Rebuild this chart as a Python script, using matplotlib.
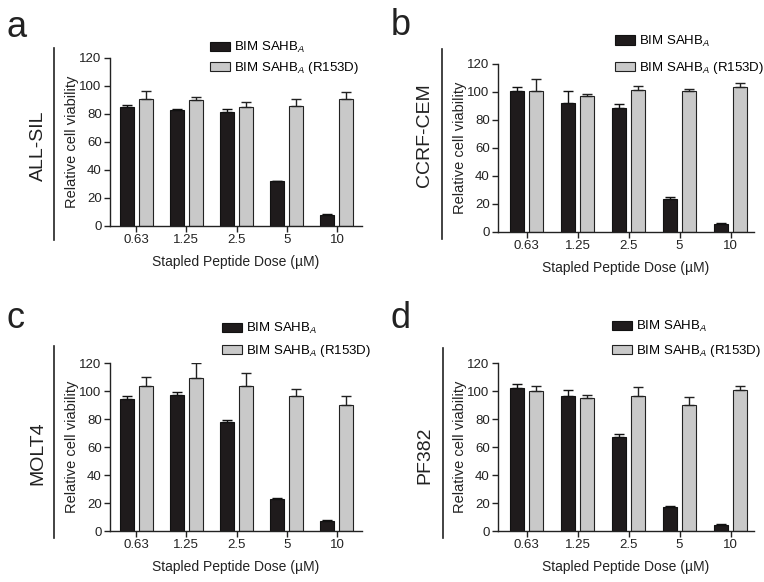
import matplotlib
matplotlib.use('Agg')
import matplotlib.pyplot as plt
from matplotlib.lines import Line2D
import numpy as np

plt.rcParams['font.family'] = ['Liberation Sans', 'DejaVu Sans']
plt.rcParams['mathtext.fontset'] = 'custom'
plt.rcParams['mathtext.rm'] = 'Liberation Sans'
plt.rcParams['mathtext.it'] = 'Liberation Sans:italic'

# dati
doses = ['0.63', '1.25', '2.5', '5', '10']
panel_letters = ['a', 'b', 'c', 'd']
cell_lines = ['ALL-SIL', 'CCRF-CEM', 'MOLT4', 'PF382']

allsil_wt = [85, 82.7, 81.5, 31.8, 7.6]
allsil_wt_err = [1.2, 0.9, 2.4, 0.7, 0.7]
allsil_mut = [90.7, 89.8, 85, 85.5, 91]
allsil_mut_err = [5.5, 2.2, 3.6, 5.5, 5]

ccrf_wt = [100.5, 91.9, 88.5, 23.9, 5.7]
ccrf_wt_err = [2.8, 9.1, 3.1, 1.4, 0.7]
ccrf_mut = [100.5, 96.9, 101.4, 100.7, 103.8]
ccrf_mut_err = [8.8, 1.7, 3.1, 1.7, 2.4]

molt4_wt = [94.5, 97.1, 78.2, 22.7, 7.4]
molt4_wt_err = [2.1, 2.2, 1.0, 1.0, 0.7]
molt4_mut = [103.8, 109.3, 103.6, 96.6, 90]
molt4_mut_err = [6.0, 10.5, 9.3, 4.6, 6.6]

pf382_wt = [102.2, 96.2, 67, 17.2, 4.3]
pf382_wt_err = [2.8, 4.3, 2.1, 0.5, 0.7]
pf382_mut = [100.2, 95, 96.6, 89.7, 100.7]
pf382_mut_err = [3.1, 1.9, 6.0, 5.8, 2.6]

wt_all = [allsil_wt, ccrf_wt, molt4_wt, pf382_wt]
wt_err_all = [allsil_wt_err, ccrf_wt_err, molt4_wt_err, pf382_wt_err]
mut_all = [allsil_mut, ccrf_mut, molt4_mut, pf382_mut]
mut_err_all = [allsil_mut_err, ccrf_mut_err, molt4_mut_err, pf382_mut_err]

W, H = 764, 582
fig = plt.figure(figsize=(W / 100, H / 100), dpi=100)

# posizioni in pixel: left, right, top, bottom, xlim
boxes = [
    (110, 362, 58, 226, (-0.52, 4.5)),
    (498, 754, 64, 232, (-0.56, 4.46)),
    (110, 362, 363, 531, (-0.52, 4.5)),
    (498, 754, 363, 531, (-0.56, 4.46)),
]
# legenda: x, y centro, spaziatura righe
legends = [(210, 58, 0.38), (615, 55, 0.9), (222, 340, 0.5), (612, 339, 0.65)]
# lettera (x, baseline), etichetta (x, y), linea (x, y0, y1)
letters = [(7, 37), (391, 35), (7, 328), (390, 328)]
labels_pos = [(38, 146), (425, 135), (38, 453), (425, 455)]
lines = [(54, 48, 240), (442, 49, 239), (54, 346, 538), (443, 348, 538)]

black = '#1f1b1c'
grey = '#c9c9c9'
x = np.arange(len(doses))
bw = 0.28

for i in range(4):
    l, r, t, b, xl = boxes[i]
    ax = fig.add_axes([l / W, 1 - b / H, (r - l) / W, (b - t) / H])
    ax.bar(x - 0.19, wt_all[i], bw, color=black, edgecolor='#111111', linewidth=0.8,
           yerr=[np.zeros(5), wt_err_all[i]], capsize=3.5,
           error_kw=dict(elinewidth=1, capthick=1, ecolor='#111111'),
           label=r'BIM SAHB$_{\mathit{A}}$')
    ax.bar(x + 0.19, mut_all[i], bw, color=grey, edgecolor='#222222', linewidth=0.8,
           yerr=[np.zeros(5), mut_err_all[i]], capsize=3.5,
           error_kw=dict(elinewidth=1, capthick=1, ecolor='#222222'),
           label=r'BIM SAHB$_{\mathit{A}}$ (R153D)')
    ax.set_ylim(0, 120)
    ax.set_xlim(*xl)
    ax.set_yticks(range(0, 121, 20))
    ax.set_xticks(x)
    ax.set_xticklabels(doses)
    for s in ['top', 'right']:
        ax.spines[s].set_visible(False)
    for s in ['left', 'bottom']:
        ax.spines[s].set_linewidth(1)
        ax.spines[s].set_color('#222222')
    ax.tick_params(length=4, width=1, labelsize=9.5, colors='#222222', pad=2)
    ax.set_ylabel('Relative cell viability', fontsize=10.5, color='#222222', labelpad=0)
    ax.set_xlabel('Stapled Peptide Dose (µM)', fontsize=10, color='#222222', labelpad=6)

    lx, ly, lsp = legends[i]
    ax.legend(loc='center left', bbox_to_anchor=(lx / W, 1 - ly / H), bbox_transform=fig.transFigure,
              frameon=False, fontsize=9.5, handlelength=1.5, handleheight=0.7,
              handletextpad=0.3, labelspacing=lsp, borderpad=0, borderaxespad=0)

    # lettera e nome linea cellulare
    fig.text(letters[i][0] / W, 1 - letters[i][1] / H, panel_letters[i], fontsize=26,
             color='#222222', ha='left', va='baseline')
    lnx, y0, y1 = lines[i]
    fig.add_artist(Line2D([lnx / W, lnx / W], [1 - y0 / H, 1 - y1 / H],
                          color='#222222', linewidth=1.2, transform=fig.transFigure))
    fig.text(labels_pos[i][0] / W, 1 - labels_pos[i][1] / H, cell_lines[i], fontsize=14,
             rotation=90, ha='center', va='center', color='#222222')

plt.savefig('out.png', dpi=100)
plt.close()
